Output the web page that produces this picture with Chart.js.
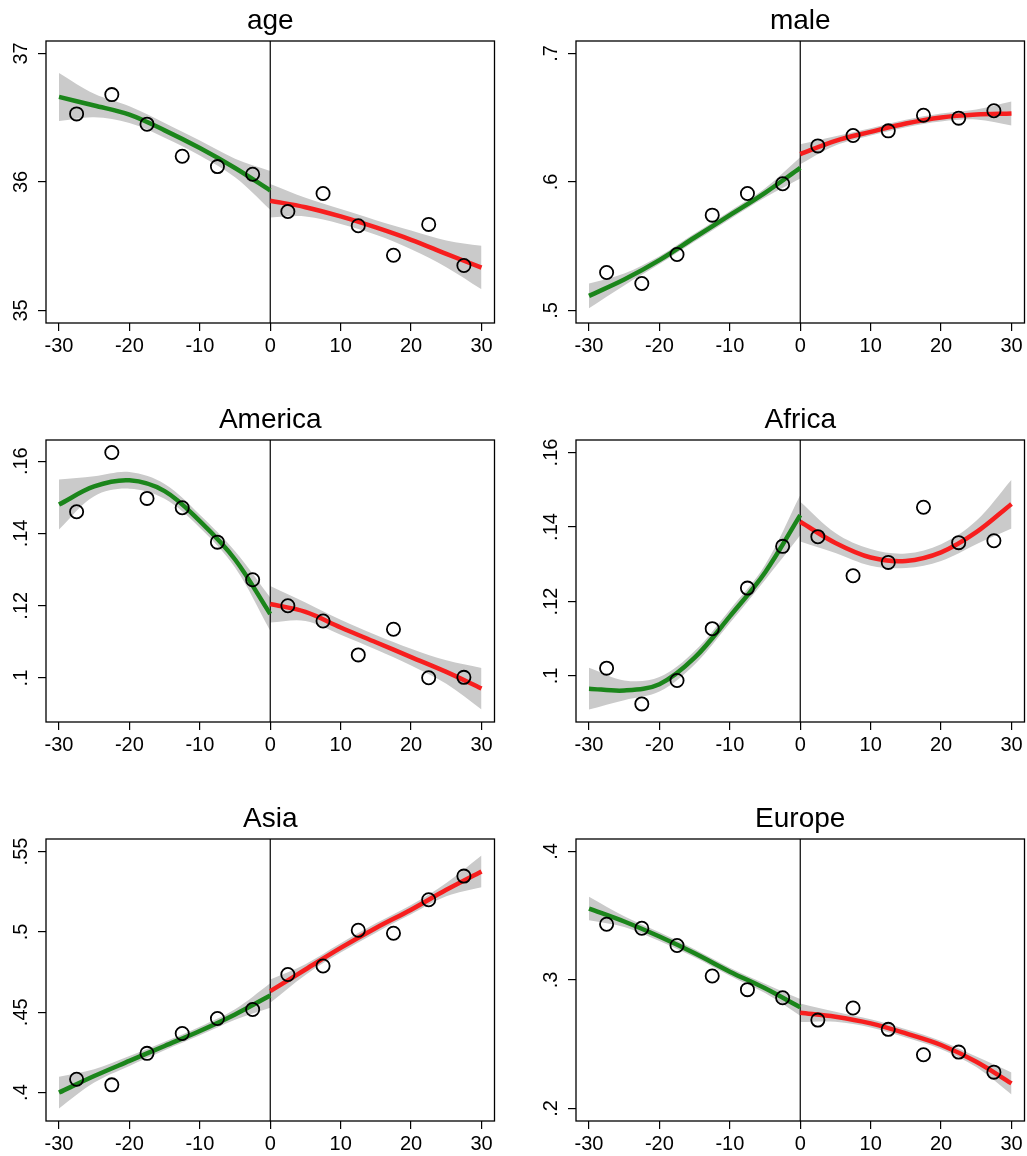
<!DOCTYPE html>
<html>
<head>
<meta charset="utf-8">
<script src="https://cdn.jsdelivr.net/npm/chart.js@4.4.1/dist/chart.umd.min.js"></script>
<style>
  html, body { margin: 0; padding: 0; background: #fff; overflow: hidden; }
  #wrap { position: relative; width: 1027px; height: 1156px; }
  #wrap canvas { position: absolute; }
</style>
</head>
<body>
<div id="wrap"></div>
<script>
const BIN_X = [-27.5, -22.5, -17.5, -12.5, -7.5, -2.5, 2.5, 7.5, 12.5, 17.5, 22.5, 27.5];
const LEFT_X = [-30, -25, -20, -15, -10, -5, 0];
const RIGHT_X = [0, 5, 10, 15, 20, 25, 30];
const X_TICKS = [-30, -20, -10, 0, 10, 20, 30];

// age
const AGE_MEANS = [36.53, 36.68, 36.45, 36.20, 36.12, 36.06, 35.77, 35.91, 35.66, 35.43, 35.67, 35.35];
const AGE_FIT_L = [36.662, 36.595, 36.524, 36.402, 36.264, 36.109, 35.934];
const AGE_HI_L = [36.849, 36.686, 36.589, 36.459, 36.322, 36.181, 36.085];
const AGE_LO_L = [36.475, 36.504, 36.459, 36.345, 36.207, 36.036, 35.784];
const AGE_FIT_R = [35.854, 35.804, 35.732, 35.646, 35.550, 35.441, 35.334];
const AGE_HI_R = [35.984, 35.877, 35.789, 35.703, 35.623, 35.545, 35.503];
const AGE_LO_R = [35.724, 35.732, 35.674, 35.589, 35.477, 35.337, 35.165];
const AGE_TICKS = [35, 36, 37];
const AGE_LABELS = ["35", "36", "37"];

// male
const MALE_MEANS = [0.5296, 0.5210, 0.5436, 0.5742, 0.5911, 0.5986, 0.6281, 0.6362, 0.6398, 0.6520, 0.6497, 0.6554];
const MALE_FIT_L = [0.5114, 0.5241, 0.5392, 0.5568, 0.5742, 0.5916, 0.6110];
const MALE_HI_L = [0.5210, 0.5288, 0.5423, 0.5599, 0.5773, 0.5952, 0.6193];
const MALE_LO_L = [0.5018, 0.5195, 0.5361, 0.5537, 0.5711, 0.5879, 0.6027];
const MALE_FIT_R = [0.6217, 0.6320, 0.6390, 0.6455, 0.6502, 0.6525, 0.6533];
const MALE_HI_R = [0.6294, 0.6357, 0.6419, 0.6484, 0.6533, 0.6564, 0.6626];
const MALE_LO_R = [0.6139, 0.6284, 0.6362, 0.6427, 0.6471, 0.6486, 0.6440];
const MALE_TICKS = [0.5, 0.6, 0.7];
const MALE_LABELS = [".5", ".6", ".7"];

// America
const AME_MEANS = [0.1460, 0.1624, 0.1497, 0.1471, 0.1376, 0.1272, 0.1200, 0.1158, 0.1064, 0.1135, 0.1001, 0.1002];
const AME_FIT_L = [0.1480, 0.1530, 0.1547, 0.1517, 0.1434, 0.1328, 0.1177];
const AME_HI_L = [0.1549, 0.1558, 0.1570, 0.1537, 0.1452, 0.1351, 0.1223];
const AME_LO_L = [0.1411, 0.1503, 0.1524, 0.1496, 0.1416, 0.1306, 0.1131];
const AME_FIT_R = [0.1205, 0.1183, 0.1140, 0.1099, 0.1058, 0.1017, 0.0971];
const AME_HI_R = [0.1255, 0.1209, 0.1161, 0.1119, 0.1081, 0.1049, 0.1028];
const AME_LO_R = [0.1154, 0.1158, 0.1120, 0.1079, 0.1035, 0.0984, 0.0913];
const AME_TICKS = [0.1, 0.12, 0.14, 0.16];
const AME_LABELS = [".1", ".12", ".14", ".16"];

// Africa
const AFR_MEANS = [0.1021, 0.0925, 0.0988, 0.1127, 0.1236, 0.1348, 0.1374, 0.1269, 0.1305, 0.1453, 0.1358, 0.1363];
const AFR_FIT_L = [0.0966, 0.0961, 0.0978, 0.1049, 0.1160, 0.1278, 0.1432];
const AFR_HI_L = [0.1022, 0.0988, 0.0997, 0.1067, 0.1178, 0.1298, 0.1486];
const AFR_LO_L = [0.0910, 0.0935, 0.0958, 0.1031, 0.1142, 0.1258, 0.1378];
const AFR_FIT_R = [0.1414, 0.1357, 0.1318, 0.1309, 0.1332, 0.1386, 0.1462];
const AFR_HI_R = [0.1468, 0.1384, 0.1341, 0.1329, 0.1354, 0.1417, 0.1527];
const AFR_LO_R = [0.1361, 0.1330, 0.1296, 0.1290, 0.1309, 0.1354, 0.1396];
const AFR_TICKS = [0.1, 0.12, 0.14, 0.16];
const AFR_LABELS = [".1", ".12", ".14", ".16"];

// Asia
const ASI_MEANS = [0.4083, 0.4048, 0.4244, 0.4368, 0.4461, 0.4517, 0.4735, 0.4788, 0.5010, 0.4991, 0.5200, 0.5347];
const ASI_FIT_L = [0.4000, 0.4103, 0.4197, 0.4290, 0.4383, 0.4486, 0.4604];
const ASI_HI_L = [0.4099, 0.4145, 0.4228, 0.4317, 0.4410, 0.4519, 0.4681];
const ASI_LO_L = [0.3901, 0.4062, 0.4166, 0.4263, 0.4356, 0.4453, 0.4528];
const ASI_FIT_R = [0.4631, 0.4766, 0.4900, 0.5024, 0.5138, 0.5262, 0.5376];
const ASI_HI_R = [0.4703, 0.4799, 0.4929, 0.5053, 0.5167, 0.5304, 0.5475];
const ASI_LO_R = [0.4559, 0.4732, 0.4871, 0.4995, 0.5109, 0.5221, 0.5277];
const ASI_TICKS = [0.4, 0.45, 0.5, 0.55];
const ASI_LABELS = [".4", ".45", ".5", ".55"];

// Europe
const EUR_MEANS = [0.3434, 0.3403, 0.3268, 0.3031, 0.2925, 0.2862, 0.2688, 0.2782, 0.2616, 0.2418, 0.2439, 0.2283];
const EUR_FIT_L = [0.3556, 0.3455, 0.3338, 0.3208, 0.3065, 0.2935, 0.2787];
const EUR_HI_L = [0.3647, 0.3496, 0.3371, 0.3239, 0.3096, 0.2971, 0.2852];
const EUR_LO_L = [0.3465, 0.3413, 0.3304, 0.3177, 0.3034, 0.2899, 0.2722];
const EUR_FIT_R = [0.2745, 0.2714, 0.2662, 0.2584, 0.2494, 0.2364, 0.2195];
const EUR_HI_R = [0.2818, 0.2753, 0.2694, 0.2616, 0.2525, 0.2405, 0.2281];
const EUR_LO_R = [0.2673, 0.2675, 0.2631, 0.2553, 0.2462, 0.2322, 0.2109];
const EUR_TICKS = [0.2, 0.3, 0.4];
const EUR_LABELS = [".2", ".3", ".4"];

const PANELS = [
  { title: "age", pts: AGE_MEANS, fitL: AGE_FIT_L, hiL: AGE_HI_L, loL: AGE_LO_L, fitR: AGE_FIT_R, hiR: AGE_HI_R, loR: AGE_LO_R, ticks: AGE_TICKS, labels: AGE_LABELS },
  { title: "male", pts: MALE_MEANS, fitL: MALE_FIT_L, hiL: MALE_HI_L, loL: MALE_LO_L, fitR: MALE_FIT_R, hiR: MALE_HI_R, loR: MALE_LO_R, ticks: MALE_TICKS, labels: MALE_LABELS },
  { title: "America", pts: AME_MEANS, fitL: AME_FIT_L, hiL: AME_HI_L, loL: AME_LO_L, fitR: AME_FIT_R, hiR: AME_HI_R, loR: AME_LO_R, ticks: AME_TICKS, labels: AME_LABELS },
  { title: "Africa", pts: AFR_MEANS, fitL: AFR_FIT_L, hiL: AFR_HI_L, loL: AFR_LO_L, fitR: AFR_FIT_R, hiR: AFR_HI_R, loR: AFR_LO_R, ticks: AFR_TICKS, labels: AFR_LABELS },
  { title: "Asia", pts: ASI_MEANS, fitL: ASI_FIT_L, hiL: ASI_HI_L, loL: ASI_LO_L, fitR: ASI_FIT_R, hiR: ASI_HI_R, loR: ASI_LO_R, ticks: ASI_TICKS, labels: ASI_LABELS },
  { title: "Europe", pts: EUR_MEANS, fitL: EUR_FIT_L, hiL: EUR_HI_L, loL: EUR_LO_L, fitR: EUR_FIT_R, hiR: EUR_HI_R, loR: EUR_LO_R, ticks: EUR_TICKS, labels: EUR_LABELS },
];

const FONT = '"Liberation Sans", Arial, Helvetica, sans-serif';
const GREEN = "#1b851b";
const RED = "#f71e1e";
const BAND = "#cacaca";
const CANVAS_W = 497;
const CANVAS_H = 370;
const ROW_TOP = [0, 399, 798];
const COL_LEFT = [0, 530];
const AREA_LEFT = 46;
const AREA_TOP = 41;
const AREA_BOTTOM = 323;
const AREA_RIGHT = 494.5;
const TICK_LEN = 8;
const YLABEL_CENTER = 21.5;

const measure = document.createElement("canvas").getContext("2d");
measure.font = "20px " + FONT;

const xy = (xs, ys) => xs.map((x, k) => ({ x, y: ys[k] }));

const framePlugin = {
  id: "frame",
  afterDatasetsDraw(chart) {
    const { ctx, chartArea: a } = chart;
    ctx.save();
    ctx.strokeStyle = "#000";
    ctx.lineWidth = 1.3;
    ctx.strokeRect(a.left, a.top, a.right - a.left, a.bottom - a.top);
    ctx.restore();
  },
};

const panelTitle = {
  id: "panelTitle",
  afterDraw(chart, args, opts) {
    const { ctx, chartArea: a } = chart;
    ctx.save();
    ctx.fillStyle = "#000";
    ctx.font = "28px " + FONT;
    ctx.textAlign = "center";
    ctx.textBaseline = "alphabetic";
    ctx.fillText(opts.text, (a.left + a.right) / 2, a.top - 11.8);
    ctx.restore();
  },
};

function makePanel(p, i) {
  const canvas = document.createElement("canvas");
  canvas.width = CANVAS_W;
  canvas.height = CANVAS_H;
  canvas.style.left = COL_LEFT[i % 2] + "px";
  canvas.style.top = ROW_TOP[Math.floor(i / 2)] + "px";
  document.getElementById("wrap").appendChild(canvas);

  // stata-like range: data and ticks, plus a small margin
  const all = [...p.pts, ...p.hiL, ...p.loL, ...p.hiR, ...p.loR, ...p.ticks];
  const lo = Math.min(...all);
  const hi = Math.max(...all);
  const spanPx = AREA_BOTTOM - AREA_TOP - 25;
  const yPad = ((hi - lo) * 12.5) / spanPx;
  const xPad = (60 * 13) / (AREA_RIGHT - AREA_LEFT - 26);
  const yMin = lo - yPad;
  const yMax = hi + yPad;

  const widest = Math.max(...p.labels.map((t) => measure.measureText(t).width));
  const yTickPad = AREA_LEFT - TICK_LEN - YLABEL_CENTER - widest / 2;

  const gridOpts = {
    drawOnChartArea: false,
    drawTicks: true,
    tickLength: TICK_LEN,
    color: "#000",
    lineWidth: 1.2,
  };

  const band = (xs, ys, fill) => ({
    data: xy(xs, ys),
    fill: fill,
    backgroundColor: BAND,
    borderColor: "rgba(0,0,0,0)",
    borderWidth: 0,
    pointRadius: 0,
    tension: 0.35,
    order: 4,
  });
  const fit = (xs, ys, color) => ({
    data: xy(xs, ys),
    borderColor: color,
    borderWidth: 4.5,
    pointRadius: 0,
    fill: false,
    tension: 0.35,
    order: 1,
  });

  return new Chart(canvas, {
    type: "line",
    data: {
      datasets: [
        {
          data: xy(BIN_X, p.pts),
          showLine: false,
          pointRadius: 6.6,
          pointBorderWidth: 1.8,
          pointBorderColor: "#000",
          pointBackgroundColor: "rgba(0,0,0,0)",
          order: 0,
        },
        fit(LEFT_X, p.fitL, GREEN),
        fit(RIGHT_X, p.fitR, RED),
        {
          data: [{ x: 0, y: yMin }, { x: 0, y: yMax }],
          borderColor: "#000",
          borderWidth: 1.2,
          pointRadius: 0,
          fill: false,
          order: 2,
        },
        band(LEFT_X, p.hiL, "+1"),
        band(LEFT_X, p.loL, false),
        band(RIGHT_X, p.hiR, "+1"),
        band(RIGHT_X, p.loR, false),
      ],
    },
    options: {
      responsive: false,
      animation: false,
      devicePixelRatio: 1,
      layout: {
        autoPadding: false,
        padding: { top: AREA_TOP, left: 0, right: CANVAS_W - AREA_RIGHT, bottom: 0 },
      },
      plugins: {
        legend: { display: false },
        tooltip: { enabled: false },
        title: { display: false },
        panelTitle: { text: p.title },
      },
      scales: {
        x: {
          type: "linear",
          min: -30 - xPad,
          max: 30 + xPad,
          afterBuildTicks: (s) => {
            s.ticks = X_TICKS.map((v) => ({ value: v }));
          },
          afterFit: (s) => {
            s.height = CANVAS_H - AREA_BOTTOM;
            s.paddingLeft = 0;
            s.paddingRight = 0;
          },
          grid: gridOpts,
          border: { display: false },
          ticks: {
            color: "#000",
            font: { family: FONT, size: 20 },
            padding: 3,
            maxRotation: 0,
            autoSkip: false,
            callback: (v) => String(v),
          },
        },
        y: {
          type: "linear",
          min: yMin,
          max: yMax,
          afterBuildTicks: (s) => {
            s.ticks = p.ticks.map((v) => ({ value: v }));
          },
          afterFit: (s) => {
            s.width = AREA_LEFT;
            s.paddingTop = 0;
            s.paddingBottom = 0;
          },
          grid: gridOpts,
          border: { display: false },
          ticks: {
            color: "#000",
            font: { family: FONT, size: 20 },
            padding: yTickPad,
            minRotation: 90,
            maxRotation: 90,
            crossAlign: "center",
            autoSkip: false,
            callback: (v, idx) => p.labels[idx],
          },
        },
      },
    },
    plugins: [framePlugin, panelTitle],
  });
}

PANELS.forEach(makePanel);
</script>
</body>
</html>
